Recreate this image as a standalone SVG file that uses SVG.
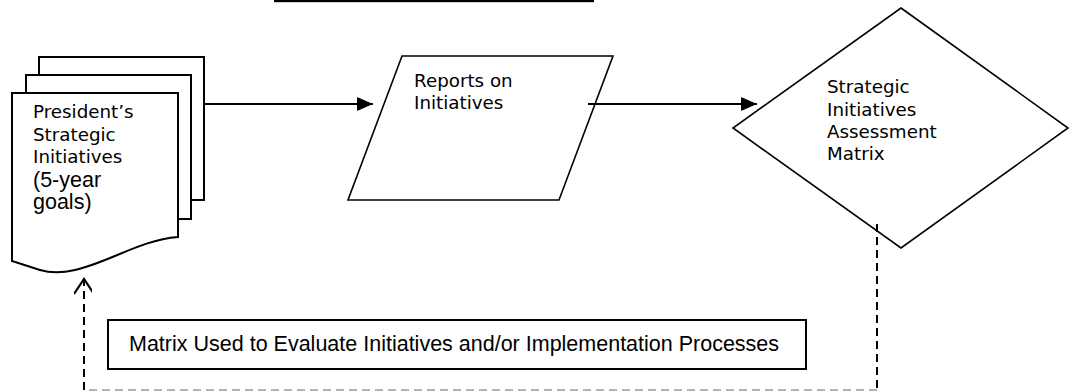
<svg xmlns="http://www.w3.org/2000/svg" width="1069" height="392" viewBox="0 0 1069 392">
  <style>
    .shape { fill: #ffffff; stroke: #000000; }
    .page { stroke-width: 2; }
    .thin { stroke-width: 1.6; }
    .verd { font-family: "DejaVu Sans", Verdana, sans-serif; font-size: 18.3px; fill: #000; }
    .arial { font-family: "Liberation Sans", Arial, sans-serif; font-size: 21.5px; fill: #000; }
    .conn { fill: none; stroke: #000; stroke-width: 2.2; }
    .dash { fill: none; stroke: #000; stroke-width: 2; stroke-dasharray: 8 5; }
    .gdash { fill: none; stroke: #999; stroke-width: 1.5; stroke-dasharray: 8 5; }
  </style>
  <defs>
    <marker id="solidArrow" markerWidth="16" markerHeight="14" refX="16" refY="7" orient="auto" markerUnits="userSpaceOnUse">
      <path d="M0,0 L16,7 L0,14 Z" fill="#000"/>
    </marker>
    <marker id="openArrow" markerWidth="24" markerHeight="18" refX="16" refY="10" orient="auto" markerUnits="userSpaceOnUse">
      <path d="M1,0 L16,10 L1,20" fill="none" stroke="#000" stroke-width="2.2"/>
    </marker>
  </defs>

  <rect x="274" y="0" width="320" height="2.2" fill="#000"/>

  <g id="presidents-initiatives">
    <rect class="shape page" x="39" y="57" width="165" height="143"/>
    <rect class="shape page" x="26" y="75" width="165" height="144"/>
    <path class="shape page" d="M12,93 L178,93 L178,237 C140,240 110,262 75,270 C62,273 50,273 40,270 L12,261 Z"/>
    <text class="verd" x="33" y="118">President’s</text>
    <text class="verd" x="33" y="141">Strategic</text>
    <text class="verd" x="33" y="163">Initiatives</text>
    <text class="arial" x="33" y="187">(5-year</text>
    <text class="arial" x="33" y="209">goals)</text>
  </g>

  <g id="reports">
    <path class="shape thin" d="M402,56 L613,56 L559,200 L348,200 Z"/>
    <text class="verd" x="414" y="87">Reports on</text>
    <text class="verd" x="414" y="109">Initiatives</text>
  </g>

  <g id="matrix">
    <path class="shape thin" d="M901,8 L1068,128 L901,248 L733,128 Z"/>
    <text class="verd" x="827" y="93">Strategic</text>
    <text class="verd" x="827" y="116">Initiatives</text>
    <text class="verd" x="827" y="138">Assessment</text>
    <text class="verd" x="827" y="160">Matrix</text>
  </g>

  <g id="connectors">
    <line class="conn" x1="204" y1="104" x2="373" y2="104" marker-end="url(#solidArrow)"/>
    <line class="conn" x1="588" y1="104" x2="757" y2="104" marker-end="url(#solidArrow)"/>
    <line class="dash" x1="877" y1="224" x2="877" y2="390"/>
    <line class="gdash" x1="877" y1="390" x2="84" y2="390"/>
    <line class="dash" x1="84" y1="390" x2="84" y2="279" marker-end="url(#openArrow)"/>
  </g>

  <g id="evaluate-label">
    <rect x="108" y="320" width="698" height="49" fill="#fff" stroke="#000" stroke-width="2"/>
    <text class="arial" x="129" y="351">Matrix Used to Evaluate Initiatives and/or Implementation Processes</text>
  </g>
</svg>
